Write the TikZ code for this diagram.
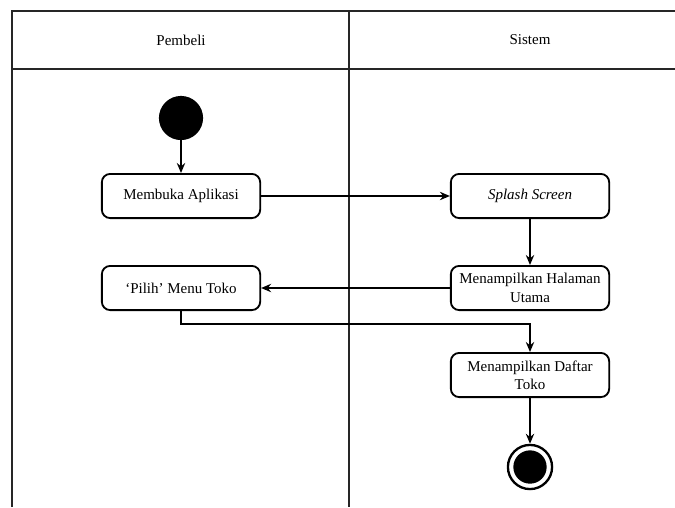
\documentclass[tikz,border=0pt]{standalone}
\usepackage{fontspec}
\setmainfont{Liberation Serif}
\usetikzlibrary{arrows.meta}

\begin{document}
\begin{tikzpicture}[x = 0.6pt, y = -0.6pt,
  lane/.style = {line width = 1.2pt, color = black!85},
  act/.style = {draw, line width = 1.1pt, rounded corners = 5pt, align = center,
    minimum width = 95pt, minimum height = 26.5pt, font = \small, inner sep = 2pt},
  flow/.style = {line width = 1.1pt, -{Stealth[length = 6pt, width = 5pt]}}]
\useasboundingbox (0, 0) rectangle (675, 507);
%\draw[very thin, color = gray](0, 0) grid[step = 50] (675, 507);
% swimlanes
\draw [lane] (12, 507) -- (12, 11) -- (675, 11);
\draw [lane] (12, 69) -- (675, 69);
\draw [lane] (349, 11) -- (349, 507);
\node (pembeli) at (181, 40) {\small Pembeli};
\node (sistem) at (530, 40) {\small Sistem};
% activities
\node [circle, fill = black, minimum size = 26.5pt, inner sep = 0pt] (start) at (181, 118) {};
\node [act] (buka) at (181, 196) {Membuka Aplikasi};
\node [act] (splash) at (530, 196) {\textit{Splash Screen}};
\node [act] (utama) at (530, 288) {Menampilkan Halaman\\Utama};
\node [act] (pilih) at (181, 288) {`Pilih' Menu Toko};
\node [act] (daftar) at (530, 375) {Menampilkan Daftar\\Toko};
\node [circle, draw, line width = 1.4pt, minimum size = 26.5pt, inner sep = 0pt] (finish) at (530, 467) {};
\node [circle, fill = black, minimum size = 20pt, inner sep = 0pt] (finishdot) at (530, 467) {};
% flows
\draw [flow] (start) -- (buka);
\draw [flow] (buka) -- (splash);
\draw [flow] (splash) -- (utama);
\draw [flow] (utama) -- (pilih);
\draw [flow] (pilih.south) -- ++(0, 13) -| (daftar.north);
\draw [flow] (daftar) -- (finish);
\end{tikzpicture}
\end{document}
